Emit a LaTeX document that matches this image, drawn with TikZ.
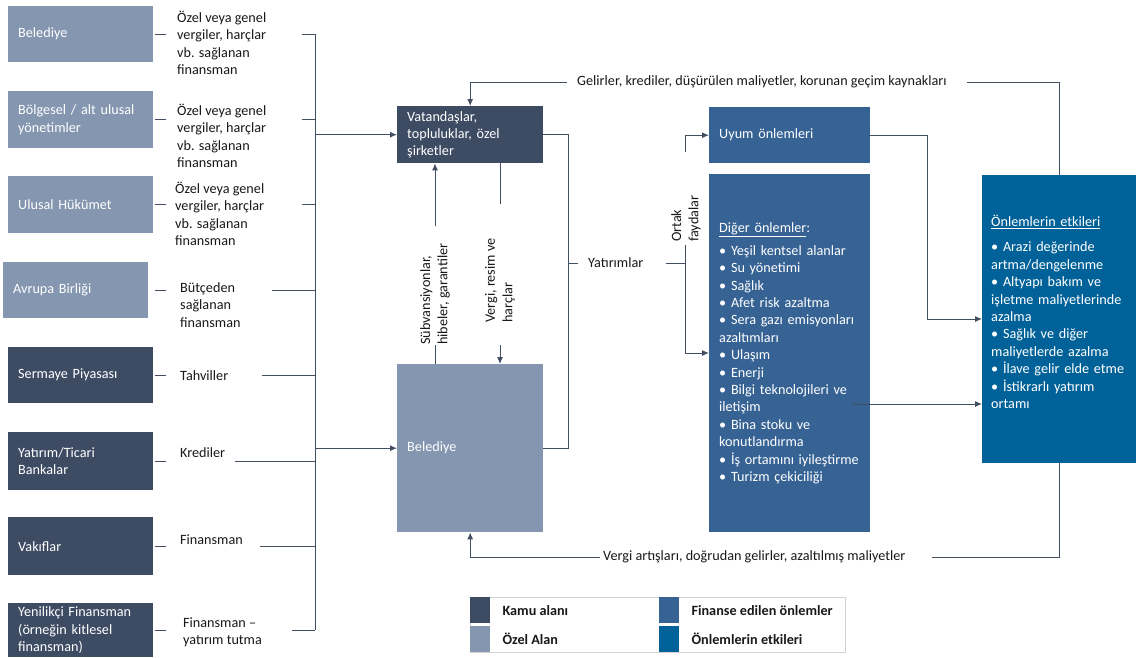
\documentclass[tikz,border=0pt]{standalone}
\usepackage{fontspec}
\setmainfont{Carlito}
\definecolor{kamudark}{RGB}{61,75,99}
\definecolor{ozellight}{RGB}{132,150,176}
\definecolor{finansblue}{RGB}{54,98,148}
\definecolor{etkiblue}{RGB}{0,98,152}
\definecolor{linegray}{RGB}{66,78,98}
\definecolor{textgray}{RGB}{25,25,25}
\usetikzlibrary{arrows.meta}
\usetikzlibrary{calc}

\begin{document}
\begin{tikzpicture}[x=1pt, y=-1pt,
  every node/.style={font=\fontsize{14.2}{17.4}\selectfont, text=textgray},
  box/.style={anchor=north west, text=white, align=left, inner xsep=10pt, inner ysep=2pt},
  lbl/.style={inner sep=0pt, align=left},
  conn/.style={draw=linegray, line width=1pt},
  tip/.style={-{Latex[length=7pt,width=6pt]}}]

  \useasboundingbox (0,0) rectangle (1136,657);
  \fill [white] (0,0) rectangle (1136,657);

  \foreach \n/\x/\y/\h/\t in {1/8/6/56/{Belediye}, 2/8/91/57/{Bölgesel / alt ulusal\\yönetimler}, 3/8/176/57/{Ulusal Hükümet}, 4/3/262/56/{Avrupa Birliği}} {
    \node [box, fill=ozellight, text width=125pt, minimum height=\h pt] (b\n) at (\x,\y) {\t};
  }
  \foreach \n/\x/\y/\h/\t in {5/8/347/56/{Sermaye Piyasası}, 6/8/432/58/{Yatırım/Ticari\\Bankalar}, 7/8/517/58/{Vakıflar}, 8/8/603/54/{Yenilikçi Finansman\\(örneğin kitlesel\\finansman)}} {
    \node [box, fill=kamudark, text width=125pt, minimum height=\h pt] (b\n) at (\x,\y) {\t};
  }

  \foreach \n/\x/\y/\t in {1/177/43/{Özel veya genel\\vergiler, harçlar\\vb. sağlanan\\finansman}, 2/177/136/{Özel veya genel\\vergiler, harçlar\\vb. sağlanan\\finansman}, 3/175/214/{Özel veya genel\\vergiler, harçlar\\vb. sağlanan\\finansman}, 4/180/305/{Bütçeden\\sağlanan\\finansman}, 5/180/376/{Tahviller}, 6/180/453/{Krediler}, 7/180/540/{Finansman}, 8/183/632/{Finansman --\\yatırım tutma}} {
    \node [lbl, anchor=west] (l\n) at (\x,\y) {\t};
  }

  \coordinate (bus) at (315,0);
  \foreach \n/\s in {1/302, 2/302, 3/302, 4/272, 5/262, 6/235, 7/260, 8/292} {
    \draw [conn] (b\n.east -| 155,0) -- (b\n.east -| 166,0);
    \draw [conn] (b\n.east -| \s,0) -- (b\n.east -| bus);
  }
  \draw [conn] (b1.east -| bus) -- (b8.east -| bus);

  \node [box, fill=kamudark, text width=126pt, minimum height=57pt] (vat) at (397,106) {Vatandaşlar,\\topluluklar, özel\\şirketler};
  \node [box, fill=ozellight, text width=126pt, minimum height=168pt] (bel) at (397,364) {Belediye};
  \draw [conn, tip] (bus |- vat.west) -- (vat.west);
  \draw [conn, tip] (bus |- bel.west) -- (bel.west);

  \node [lbl, rotate=90, anchor=west] (sub) at (435,345) {Sübvansiyonlar,\\hibeler, garantiler};
  \draw [conn, tip, shorten <=17pt] (sub.east) -- (vat.south -| sub.east);
  \draw [conn] (sub.west) -- (bel.north -| sub.west);
  \node [lbl, rotate=90, anchor=west] (vrg) at (500,323) {Vergi, resim ve\\harçlar};
  \draw [conn] (vat.south -| vrg.west) -- ++(0,41);
  \draw [conn, tip, shorten <=22pt] (vrg.west) -- (bel.north -| vrg.west);

  \draw [conn] (vat.east) -- ++(25,0) |- (bel.east);
  \node [lbl, anchor=west] (yat) at (588,263) {Yatırımlar};
  \draw [conn, shorten >=10pt] (yat.west -| 568,0) -- (yat.west);
  \coordinate (cb) at (685,263);
  \draw [conn, shorten <=22pt] (yat.east) -- (cb);

  \node [box, fill=finansblue, text width=141pt, minimum height=56pt] (uyum) at (709,107) {Uyum önlemleri};
  \node [box, fill=finansblue, text width=141pt, minimum height=358pt] (digr) at (709,174) {\underline{Diğer önlemler}:\\[5.6pt]
    • Yeşil kentsel alanlar\\
    • Su yönetimi\\
    • Sağlık\\
    • Afet risk azaltma\\
    • Sera gazı emisyonları\\
    azaltımları\\
    • Ulaşım\\
    • Enerji\\
    • Bilgi teknolojileri ve\\
    iletişim\\
    • Bina stoku ve\\
    konutlandırma\\
    • İş ortamını iyileştirme\\
    • Turizm çekiciliği};
  \node [box, fill=etkiblue, inner xsep=9pt, text width=136pt, minimum height=288pt] (eff) at (982,175) {\underline{Önlemlerin etkileri}\\[7.6pt]
    • Arazi değerinde\\
    artma/dengelenme\\
    • Altyapı bakım ve\\
    işletme maliyetlerinde\\
    azalma\\
    • Sağlık ve diğer\\
    maliyetlerde azalma\\
    • İlave gelir elde etme\\
    • İstikrarlı yatırım\\
    ortamı\\[-3pt]\mbox{}};

  \node [lbl, rotate=90, anchor=west] (ort) at (686,242) {Ortak\\faydalar};
  \coordinate (cbtop) at (685,152);
  \coordinate (cbbot) at (685,245);
  \draw [conn, tip] (cbtop) |- (uyum.west);
  \draw [conn, tip] (cbbot) |- (digr.west |- 0,353);

  \draw [conn, tip] (uyum.east) -- ++(57,0) |- (eff.west |- 0,319);
  \draw [conn, tip] ([xshift=-17pt]digr.east |- 0,404) -- (eff.west |- 0,404);

  \node [lbl, anchor=west] (glr) at (577,82) {Gelirler, krediler, düşürülen maliyetler, korunan geçim kaynakları};
  \draw [conn, tip, shorten <=10pt] (glr.west) -| (vat.north);
  \draw [conn, shorten <=20pt] (glr.east) -| (eff.north);

  \node [lbl, anchor=west] (vrt) at (603,557) {Vergi artışları, doğrudan gelirler, azaltılmış maliyetler};
  \draw [conn, shorten >=26pt] (eff.south) |- (vrt.east);
  \draw [conn, tip, shorten <=3pt] (vrt.west) -| (bel.south);

  \draw [gray!35] (470,597) rectangle (845,652);
  \foreach \c/\x/\y/\t in {kamudark/470/597/Kamu alanı, ozellight/470/626/Özel Alan, finansblue/659/597/Finanse edilen önlemler, etkiblue/659/626/Önlemlerin etkileri} {
    \node [anchor=north west, fill=\c, minimum width=20pt, minimum height=26pt, inner sep=0pt] (sw-\c) at (\x,\y) {};
    \node [lbl, anchor=west, font=\fontsize{14.2}{17.4}\selectfont\bfseries] (lg-\c) at ([xshift=12pt]sw-\c.east) {\t};
  }

\end{tikzpicture}
\end{document}
